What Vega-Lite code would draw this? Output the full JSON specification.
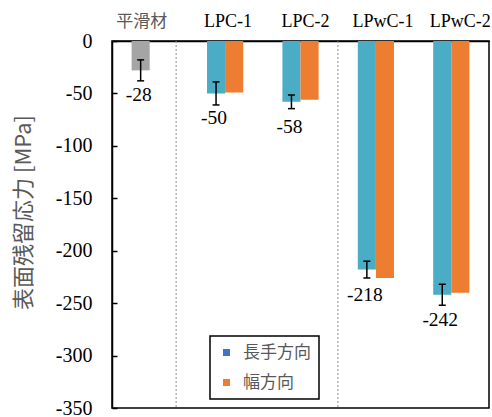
{
  "$schema": "https://vega.github.io/schema/vega-lite/v6.json",
  "autosize": {"type": "none"},
  "width": 377,
  "height": 367,
  "padding": {"left": 112, "top": 41, "right": 3, "bottom": 9},
  "background": "white",
  "config": {
    "view": {"stroke": "#000", "strokeWidth": 1.5},
    "axis": {"grid": false},
    "axisY": {
      "labelFont": "Liberation Serif",
      "labelFontSize": 20,
      "labelColor": "#000",
      "labelPadding": 25,
      "tickSize": -5,
      "tickColor": "#000",
      "tickWidth": 1.5,
      "domainColor": "#000",
      "domainWidth": 1.5
    },
    "legend": {"strokeColor": "#000", "strokeWidth": 1.5}
  },
  "data": {
    "values": [
      {"cat": "平滑材", "dir": "長手方向", "value": -28, "lo": -38, "hi": -18},
      {"cat": "LPC-1", "dir": "長手方向", "value": -50, "lo": -61, "hi": -39},
      {"cat": "LPC-1", "dir": "幅方向", "value": -49},
      {"cat": "LPC-2", "dir": "長手方向", "value": -58, "lo": -64.5, "hi": -51.5},
      {"cat": "LPC-2", "dir": "幅方向", "value": -56},
      {"cat": "LPwC-1", "dir": "長手方向", "value": -218, "lo": -226, "hi": -210},
      {"cat": "LPwC-1", "dir": "幅方向", "value": -226},
      {"cat": "LPwC-2", "dir": "長手方向", "value": -242, "lo": -252, "hi": -232},
      {"cat": "LPwC-2", "dir": "幅方向", "value": -240}
    ]
  },
  "encoding": {
    "x": {
      "field": "cat",
      "type": "nominal",
      "sort": ["平滑材", "LPC-1", "LPC-2", "LPwC-1", "LPwC-2"],
      "scale": {"paddingInner": 0.52, "paddingOuter": 0.26},
      "axis": {
        "orient": "top",
        "title": null,
        "labelAngle": 0,
        "ticks": false,
        "domainColor": "#000",
        "domainWidth": 1.5,
        "labelPadding": 11,
        "labelFont": {"condition": {"test": "datum.value === '平滑材'", "value": "Noto Sans CJK JP"}, "value": "Liberation Serif"},
        "labelColor": {"condition": {"test": "datum.value === '平滑材'", "value": "#595959"}, "value": "#000"},
        "labelFontSize": {"condition": {"test": "datum.value === '平滑材'", "value": 17}, "value": 18},
        "labelOffset": {
          "condition": [
            {"test": "datum.value === '平滑材'", "value": -8},
            {"test": "datum.value === 'LPC-1'", "value": 3},
            {"test": "datum.value === 'LPC-2'", "value": 5},
            {"test": "datum.value === 'LPwC-1'", "value": 7},
            {"test": "datum.value === 'LPwC-2'", "value": 9}
          ],
          "value": 0
        }
      }
    }
  },
  "layer": [
    {
      "data": {"values": [{"cat": "平滑材"}]},
      "mark": {"type": "rule", "color": "#8c8c8c", "strokeWidth": 1, "strokeDash": [2, 2]},
      "encoding": {"x": {"field": "cat", "type": "nominal", "bandPosition": 1.23}}
    },
    {
      "data": {"values": [{"cat": "LPwC-1"}]},
      "mark": {"type": "rule", "color": "#8c8c8c", "strokeWidth": 1, "strokeDash": [2, 2]},
      "encoding": {"x": {"field": "cat", "type": "nominal", "bandPosition": -0.55}}
    },
    {
      "mark": {"type": "bar"},
      "encoding": {
        "xOffset": {"field": "dir", "type": "nominal", "scale": {"domain": ["長手方向", "幅方向"]}},
        "y": {
          "field": "value",
          "type": "quantitative",
          "scale": {"domain": [-350, 0], "nice": false, "zero": false},
          "axis": {
            "title": "表面残留応力 [MPa]",
            "titleFont": "Noto Sans CJK JP",
            "titleFontWeight": "normal",
            "titleFontSize": 22,
            "titleColor": "#595959",
            "titleAngle": -90,
            "titleAlign": "center",
            "titleBaseline": "middle",
            "titleX": -89,
            "titleY": 171,
            "values": [0, -25, -50, -75, -100, -125, -150, -175, -200, -225, -250, -275, -300, -325, -350],
            "labelExpr": "datum.value % 50 === 0 ? '' + datum.value : ''"
          }
        },
        "y2": {"datum": 0},
        "color": {
          "condition": [
            {"test": "datum.cat === '平滑材'", "value": "#a5a5a5"},
            {"test": "datum.dir === '長手方向'", "value": "#4bacc6"}
          ],
          "field": "dir",
          "type": "nominal",
          "scale": {"domain": ["長手方向", "幅方向"], "range": ["#4472c4", "#ed7d31"]},
          "legend": {
            "title": null,
            "orient": "none",
            "legendX": 98,
            "legendY": 295,
            "padding": 8,
            "rowPadding": 12,
            "symbolType": "square",
            "symbolSize": 49,
            "labelFont": "Noto Sans CJK JP",
            "labelFontSize": 17,
            "labelColor": "#595959",
            "labelOffset": 8
          }
        }
      }
    },
    {
      "transform": [{"filter": "isValid(datum.lo)"}],
      "mark": {"type": "rule", "color": "#000", "strokeWidth": 1.5},
      "encoding": {
        "xOffset": {"field": "dir", "type": "nominal", "scale": {"domain": ["長手方向", "幅方向"]}},
        "y": {"field": "lo", "type": "quantitative"},
        "y2": {"field": "hi"}
      }
    },
    {
      "transform": [{"filter": "isValid(datum.lo)"}],
      "mark": {"type": "tick", "color": "#000", "thickness": 1.5, "size": 7, "opacity": 1},
      "encoding": {
        "xOffset": {"field": "dir", "type": "nominal", "scale": {"domain": ["長手方向", "幅方向"]}},
        "y": {"field": "lo", "type": "quantitative"}
      }
    },
    {
      "transform": [{"filter": "isValid(datum.hi)"}],
      "mark": {"type": "tick", "color": "#000", "thickness": 1.5, "size": 7, "opacity": 1},
      "encoding": {
        "xOffset": {"field": "dir", "type": "nominal", "scale": {"domain": ["長手方向", "幅方向"]}},
        "y": {"field": "hi", "type": "quantitative"}
      }
    },
    {
      "transform": [{"filter": "datum.dir === '長手方向'"}],
      "mark": {"type": "text", "font": "Liberation Serif", "fontSize": 19.5, "color": "#000", "baseline": "middle", "dy": 25, "dx": -2},
      "encoding": {
        "xOffset": {"field": "dir", "type": "nominal", "scale": {"domain": ["長手方向", "幅方向"]}},
        "y": {"field": "value", "type": "quantitative"},
        "text": {"field": "value", "type": "nominal"}
      }
    }
  ]
}
